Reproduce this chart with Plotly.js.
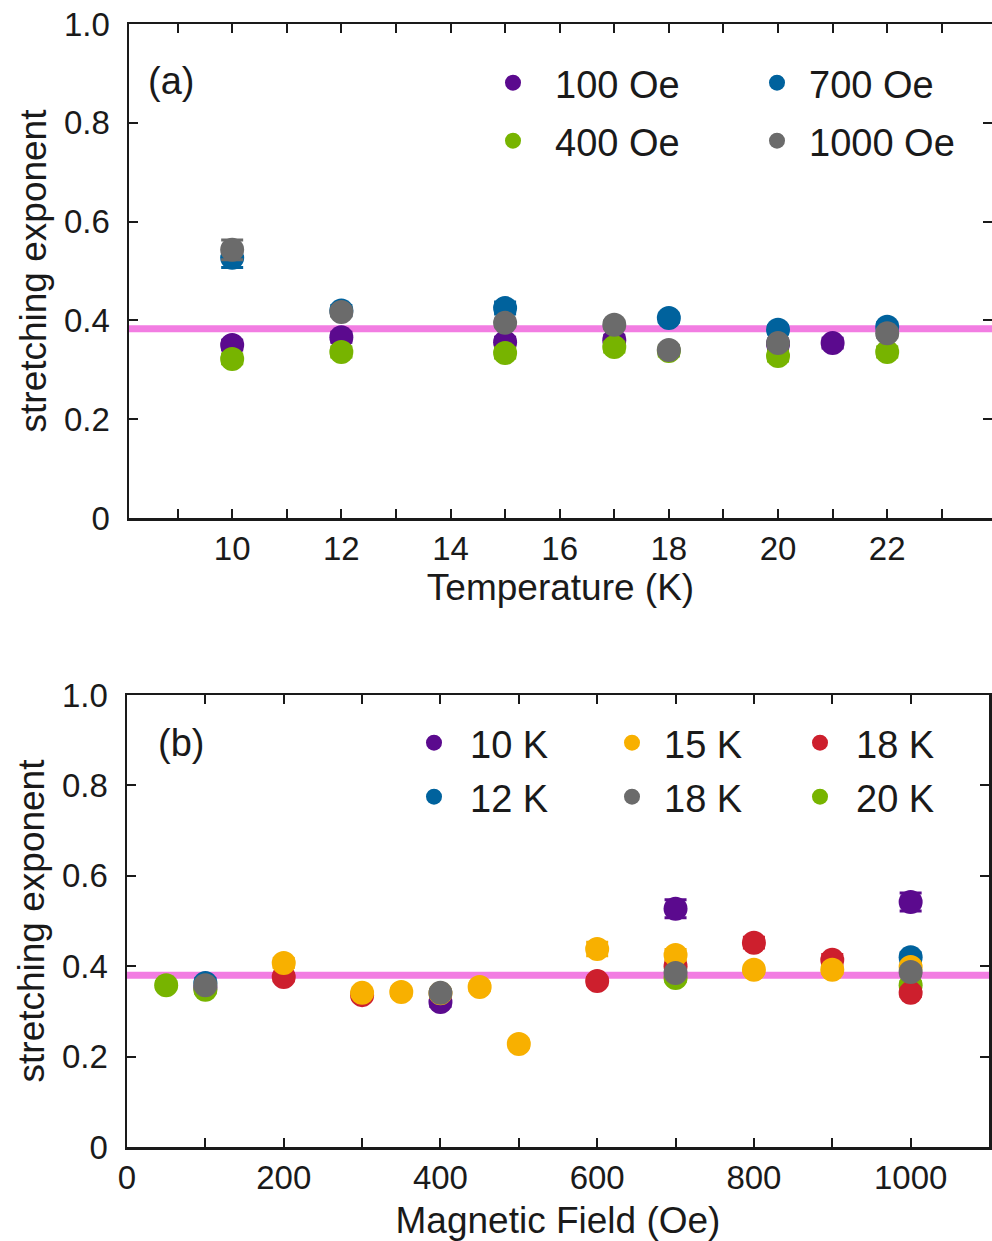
<!DOCTYPE html>
<html>
<head>
<meta charset="utf-8">
<script src="https://cdn.plot.ly/plotly-3.0.1.min.js"></script>
<style>
html,body{margin:0;padding:0;background:#fff;overflow:hidden;}
#chart{width:992px;height:1241px;}
</style>
</head>
<body>
<div id="chart"></div>
<script>
// ---------- Panel (a): stretching exponent vs temperature ----------
const tempTicks = [10, 12, 14, 16, 18, 20, 22];
const tempTickText = ['10', '12', '14', '16', '18', '20', '22'];

const t100 = [10, 12, 15, 17, 20, 21];
const b100 = [0.350, 0.366, 0.356, 0.360, 0.352, 0.354];
const e100 = [0.010, 0.010, 0.010, 0.010, 0.010, 0.010];

const t400 = [10, 12, 15, 17, 18, 20, 22];
const b400 = [0.322, 0.336, 0.334, 0.346, 0.338, 0.328, 0.336];
const e400 = [0.010, 0.010, 0.010, 0.010, 0.010, 0.010, 0.010];

const t700 = [10, 12, 15, 18, 20, 22];
const b700 = [0.527, 0.420, 0.425, 0.405, 0.381, 0.387];
const e700 = [0.020, 0.010, 0.012, 0.008, 0.008, 0.008];

const t1000 = [10, 12, 15, 17, 18, 20, 22];
const b1000 = [0.543, 0.417, 0.395, 0.391, 0.340, 0.354, 0.374];
const e1000 = [0.020, 0.008, 0.008, 0.008, 0.008, 0.008, 0.008];

const avgA = 0.383;

// ---------- Panel (b): stretching exponent vs magnetic field ----------
const fieldTicks = [0, 200, 400, 600, 800, 1000];
const fieldTickText = ['0', '200', '400', '600', '800', '1000'];

const h10K = [100, 400, 700, 1000];
const b10K = [0.352, 0.321, 0.527, 0.542];
const e10K = [0.010, 0.010, 0.020, 0.020];

const h12K = [100, 1000];
const b12K = [0.363, 0.420];
const e12K = [0.010, 0.010];

const h15K = [200, 300, 350, 400, 450, 500, 600, 700, 800, 900, 1000];
const b15K = [0.407, 0.341, 0.343, 0.340, 0.354, 0.228, 0.438, 0.425, 0.392, 0.392, 0.398];
const e15K = [0.010, 0.008, 0.008, 0.008, 0.008, 0.008, 0.015, 0.012, 0.008, 0.008, 0.008];

const h18Kr = [200, 300, 600, 700, 800, 900, 1000];
const b18Kr = [0.376, 0.336, 0.367, 0.400, 0.452, 0.414, 0.341];
const e18Kr = [0.008, 0.008, 0.008, 0.010, 0.012, 0.012, 0.008];

const h18Kg = [100, 400, 700, 1000];
const b18Kg = [0.358, 0.341, 0.385, 0.387];
const e18Kg = [0.008, 0.008, 0.008, 0.008];

const h20K = [50, 100, 700, 1000];
const b20K = [0.358, 0.348, 0.374, 0.358];
const e20K = [0.008, 0.008, 0.008, 0.008];

const avgB = 0.380;

const yTicks = [0, 0.2, 0.4, 0.6, 0.8, 1.0];
const yTickText = ['0', '0.2', '0.4', '0.6', '0.8', '1.0'];

// ---------- styling ----------
const FONT = 'Liberation Sans, Arial, Helvetica, sans-serif';
const INK = '#1a1a1a';
const PURPLE = '#5b0a8e', GREEN = '#77b400', BLUE = '#00629d', GRAY = '#6b6b6b';
const ORANGE = '#f8b000', RED = '#cd1f2d', PINK = '#f27de2';
const MSIZE = 24;

function series(x, y, err, color, name, xa, ya, legendId) {
  return {
    type: 'scatter', mode: 'markers', x: x, y: y, name: name,
    xaxis: xa, yaxis: ya, legend: legendId,
    marker: {color: color, size: MSIZE, line: {width: 0}},
    error_y: {type: 'data', array: err, visible: true, color: color, thickness: 3, width: 11},
    hoverinfo: 'x+y+name'
  };
}

const traces = [
  series(t100, b100, e100, PURPLE, '100 Oe', 'x', 'y', 'legend'),
  series(t400, b400, e400, GREEN, '400 Oe', 'x', 'y', 'legend2'),
  series(t700, b700, e700, BLUE, '700 Oe', 'x', 'y', 'legend3'),
  series(t1000, b1000, e1000, GRAY, '1000 Oe', 'x', 'y', 'legend4'),

  series(h10K, b10K, e10K, PURPLE, '10 K', 'x2', 'y2', 'legend5'),
  series(h12K, b12K, e12K, BLUE, '12 K', 'x2', 'y2', 'legend6'),
  series(h20K, b20K, e20K, GREEN, '20 K', 'x2', 'y2', 'legend10'),
  series(h18Kr, b18Kr, e18Kr, RED, '18 K', 'x2', 'y2', 'legend8'),
  series(h15K, b15K, e15K, ORANGE, '15 K', 'x2', 'y2', 'legend7'),
  series(h18Kg, b18Kg, e18Kg, GRAY, '18 K', 'x2', 'y2', 'legend9')
];

const W = 992, H = 1241;
function px(x) { return x / W; }
function py(y) { return 1 - y / H; }

function xAxis(domain, range, tv, tt, minorDtick, anchor, title, standoff) {
  return {
    domain: domain, range: range, anchor: anchor,
    tickmode: 'array', tickvals: tv, ticktext: tt,
    ticks: 'inside', ticklen: 9, tickwidth: 2, tickcolor: INK,
    minor: {ticks: 'inside', ticklen: 9, tickwidth: 2, tickcolor: INK, dtick: minorDtick, tick0: 0, showgrid: false},
    showline: true, linewidth: 2.5, linecolor: INK, mirror: 'ticks',
    showgrid: false, zeroline: false,
    tickfont: {family: FONT, size: 33, color: INK},
    ticklabelstandoff: 0,
    title: {text: title, font: {family: FONT, size: 37, color: INK}, standoff: standoff}
  };
}
function yAxis(domain, anchor) {
  return {
    domain: domain, range: [0, 1], anchor: anchor,
    tickmode: 'array', tickvals: yTicks, ticktext: yTickText,
    ticks: 'inside', ticklen: 9, tickwidth: 2, tickcolor: INK,
    showline: true, linewidth: 2.5, linecolor: INK, mirror: 'ticks',
    showgrid: false, zeroline: false,
    tickfont: {family: FONT, size: 33, color: INK},
    ticklabelstandoff: 10,
    title: {text: 'stretching exponent', font: {family: FONT, size: 37, color: INK}, standoff: 6}
  };
}

// markerX: desired marker centre, itemW: legend item width (sets gap to text)
function legendAt(markerX, rowY, itemW) {
  const markerOffset = 20 + (itemW - 30) / 2;
  return {
    x: px(markerX - markerOffset - 2), y: py(rowY), xanchor: 'left', yanchor: 'middle',
    bgcolor: 'rgba(0,0,0,0)', borderwidth: 0,
    font: {family: FONT, size: 38, color: INK},
    itemsizing: 'trace', itemwidth: itemW, tracegroupgap: 0
  };
}

const layout = {
  width: W, height: H,
  margin: {l: 0, r: 0, t: 0, b: 0, autoexpand: false},
  paper_bgcolor: '#ffffff', plot_bgcolor: '#ffffff',
  font: {family: FONT, color: INK},
  showlegend: true,
  xaxis: xAxis([px(129), 1], [8.11, 23.92], tempTicks, tempTickText, 1, 'y', 'Temperature (K)', 6),
  yaxis: yAxis([py(518), py(24)], 'x'),
  xaxis2: xAxis([px(127), px(989)], [0, 1100], fieldTicks, fieldTickText, 100, 'y2', 'Magnetic Field (Oe)', 12),
  yaxis2: yAxis([py(1147), py(695)], 'x2'),
  legend: legendAt(515, 83, 74),
  legend2: legendAt(515, 141, 74),
  legend3: legendAt(779, 83, 54),
  legend4: legendAt(779, 141, 54),
  legend5: legendAt(436, 743, 62),
  legend6: legendAt(436, 797, 62),
  legend7: legendAt(634, 743, 54),
  legend8: legendAt(822, 743, 62),
  legend9: legendAt(634, 797, 54),
  legend10: legendAt(822, 797, 62),
  shapes: [
    {type: 'line', xref: 'x domain', x0: 0, x1: 1, yref: 'y', y0: avgA, y1: avgA,
     line: {color: PINK, width: 7}, layer: 'below'},
    {type: 'line', xref: 'x2 domain', x0: 0, x1: 1, yref: 'y2', y0: avgB, y1: avgB,
     line: {color: PINK, width: 7}, layer: 'below'}
  ],
  annotations: [
    {text: '(a)', xref: 'paper', yref: 'paper', x: px(146), y: py(81), xanchor: 'left', yanchor: 'middle',
     showarrow: false, font: {family: FONT, size: 38, color: INK}},
    {text: '(b)', xref: 'paper', yref: 'paper', x: px(156), y: py(743), xanchor: 'left', yanchor: 'middle',
     showarrow: false, font: {family: FONT, size: 38, color: INK}}
  ]
};

Plotly.newPlot('chart', traces, layout, {staticPlot: true, displayModeBar: false});
</script>
</body>
</html>
